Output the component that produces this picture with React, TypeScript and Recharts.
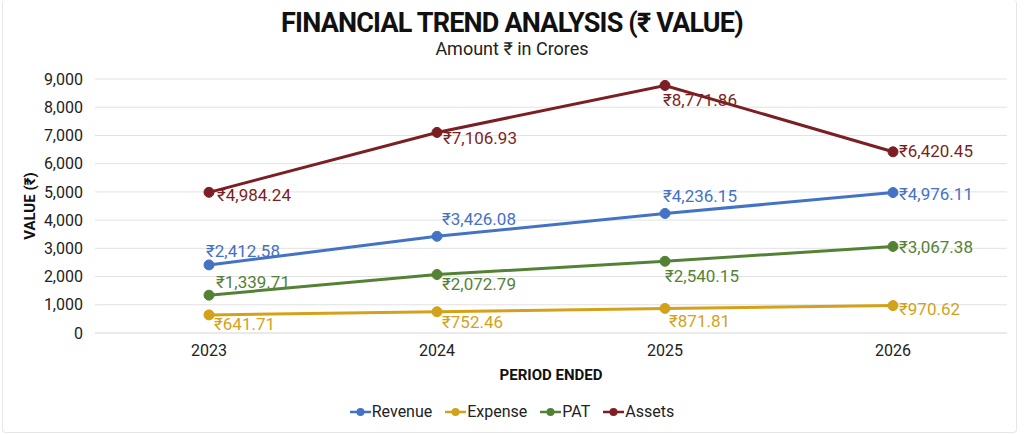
import React from "react";
import {
  LineChart,
  Line,
  XAxis,
  YAxis,
  CartesianGrid,
  LabelList,
  Label,
} from "recharts";

const years = ["2023", "2024", "2025", "2026"];
const revenue = [2412.58, 3426.08, 4236.15, 4976.11];
const expense = [641.71, 752.46, 871.81, 970.62];
const pat = [1339.71, 2072.79, 2540.15, 3067.38];
const assets = [4984.24, 7106.93, 8771.86, 6420.45];
const yTicks = [0, 1000, 2000, 3000, 4000, 5000, 6000, 7000, 8000, 9000];

const chartData = years.map((year, i) => ({
  year,
  revenue: revenue[i],
  expense: expense[i],
  pat: pat[i],
  assets: assets[i],
}));

const COLORS = {
  revenue: "#4472C4",
  expense: "#D4A21A",
  pat: "#548235",
  assets: "#7B1F24",
};

// label nudges (dx, dy of text centre) per point, to mimic the source's placement
const LABEL_OFFSETS: Record<string, [number, number][]> = {
  revenue: [[-3, -14], [5, -17], [-2, -17], [6, 1]],
  expense: [[5, 9], [5, 10], [4, 13], [6, 3]],
  pat: [[7, -13], [5, 9], [0, 15], [6, 1]],
  assets: [[8, 3], [6, 6], [-2, 15], [6, -1]],
};

const font = "Roboto, 'Noto Sans', sans-serif";

function fmtRupee(v: number): string {
  return (
    "₹" +
    v.toLocaleString("en-US", { minimumFractionDigits: 2, maximumFractionDigits: 2 })
  );
}

function makeLabel(key: string, color: string) {
  return (props: any) => {
    const { x, y, value, index } = props;
    const [dx, dy] = LABEL_OFFSETS[key][index] || [5, -15];
    return (
      <text
        x={x + dx}
        y={y + dy}
        fill={color}
        fontSize={17}
        fontFamily={font}
        textAnchor="start"
        dominantBaseline="central"
      >
        {fmtRupee(Number(value))}
      </text>
    );
  };
}

const series = [
  { key: "revenue", name: "Revenue" },
  { key: "expense", name: "Expense" },
  { key: "pat", name: "PAT" },
  { key: "assets", name: "Assets" },
] as const;

function LegendRow() {
  return (
    <div
      style={{
        position: "absolute",
        top: 402,
        left: 0,
        width: 1024,
        display: "flex",
        justifyContent: "center",
        gap: 13,
        fontFamily: font,
        fontSize: 16,
        color: "#222",
      }}
    >
      {series.map((s) => (
        <div key={s.key} style={{ display: "flex", alignItems: "center" }}>
          <svg width={21} height={10} style={{ marginRight: 1 }}>
            <line x1={0} y1={5} x2={21} y2={5} stroke={COLORS[s.key]} strokeWidth={2.5} />
            <circle cx={10.5} cy={5} r={4} fill={COLORS[s.key]} />
          </svg>
          <span>{s.name}</span>
        </div>
      ))}
    </div>
  );
}

export default function App() {
  return (
    <div
      style={{
        position: "absolute",
        left: 0,
        top: 0,
        width: 1024,
        height: 434,
        background: "#fff",
        fontFamily: font,
      }}
    >
      <div
        style={{
          position: "absolute",
          left: 2,
          top: 0,
          width: 1013,
          height: 432,
          border: "1px solid #e6e6e6",
          borderTop: "none",
          borderRadius: 4,
        }}
      />
      <div
        style={{
          position: "absolute",
          top: 7,
          width: 1024,
          textAlign: "center",
          fontWeight: 700,
          fontSize: 27,
          letterSpacing: -0.8,
          color: "#111",
        }}
      >
        FINANCIAL TREND ANALYSIS (₹ VALUE)
      </div>
      <div
        style={{
          position: "absolute",
          top: 38,
          width: 1024,
          textAlign: "center",
          fontSize: 18,
          color: "#222",
        }}
      >
        Amount ₹ in Crores
      </div>
      <div style={{ position: "absolute", left: 0, top: 0 }}>
        <LineChart
          width={1024}
          height={434}
          data={chartData}
          margin={{ top: 79, right: 17, bottom: 71, left: 10 }}
        >
          <CartesianGrid stroke="#e2e2e2" vertical={false} />
          <XAxis
            dataKey="year"
            height={30}
            padding={{ left: 114, right: 114 }}
            axisLine={{ stroke: "#e2e2e2" }}
            tickLine={false}
            tick={{ fontSize: 16, fill: "#222", fontFamily: font }}
            tickMargin={6}
          >
            <Label
              value="PERIOD ENDED"
              position="insideBottom"
              offset={-17}
              style={{ fontSize: 15, fontWeight: 700, fill: "#111", fontFamily: font }}
            />
          </XAxis>
          <YAxis
            width={85}
            domain={[0, 9000]}
            ticks={yTicks}
            interval={0}
            axisLine={false}
            tickLine={false}
            tick={{ fontSize: 16, fill: "#222", fontFamily: font }}
            tickMargin={6}
            tickFormatter={(v: number) => v.toLocaleString("en-US")}
          >
            <Label
              value="VALUE (₹)"
              angle={-90}
              position="insideLeft"
              offset={20}
              style={{ fontSize: 15, fontWeight: 700, fill: "#111", fontFamily: font, textAnchor: "middle" }}
            />
          </YAxis>
          {series.map((s) => (
            <Line
              key={s.key}
              dataKey={s.key}
              name={s.name}
              stroke={COLORS[s.key]}
              strokeWidth={3}
              dot={{ r: 5, fill: COLORS[s.key], stroke: COLORS[s.key], strokeWidth: 1 }}
              activeDot={false}
              isAnimationActive={false}
            >
              <LabelList dataKey={s.key} content={makeLabel(s.key, COLORS[s.key])} />
            </Line>
          ))}
        </LineChart>
      </div>
      <LegendRow />
    </div>
  );
}
